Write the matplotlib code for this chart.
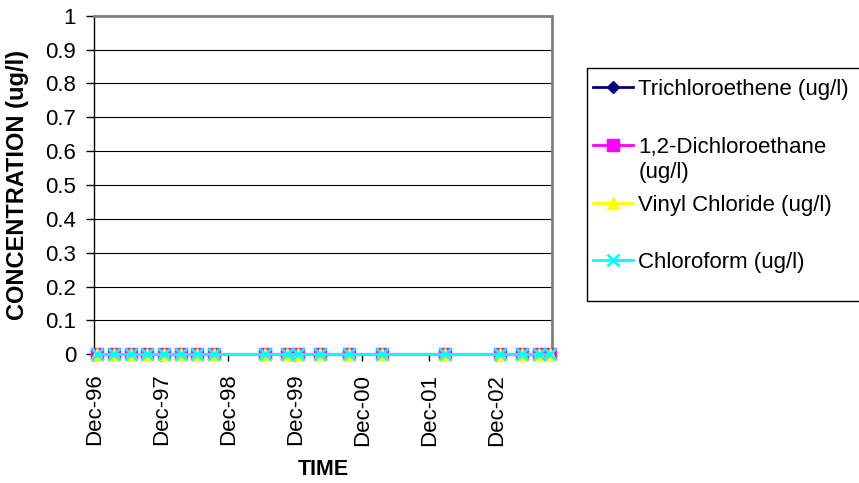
import numpy as np
import pandas as pd
import matplotlib
matplotlib.use('Agg')
import matplotlib.pyplot as plt
import matplotlib.dates as mdates
from matplotlib.lines import Line2D
from matplotlib.patches import Rectangle
from matplotlib.ticker import MultipleLocator, FormatStrFormatter

plt.rcParams['font.family'] = ['Liberation Sans', 'DejaVu Sans']

# sampling dates and measured concentrations (ug/l)
sample_dates = pd.to_datetime([
    '1996-12-17', '1997-03-18', '1997-06-17', '1997-09-15', '1997-12-15',
    '1998-03-17', '1998-06-15', '1998-09-16', '1999-06-18', '1999-10-16',
    '1999-12-15', '2000-04-15', '2000-09-18', '2001-03-18', '2002-02-23',
    '2002-12-18', '2003-04-18', '2003-07-18', '2003-09-16',
])
tce = [0, 0, 0, 0, 0, 0, 0, 0, 0, 0, 0, 0, 0, 0, 0, 0, 0, 0, 0]
dca = [0, 0, 0, 0, 0, 0, 0, 0, 0, 0, 0, 0, 0, 0, 0, 0, 0, 0, 0]
vinyl = [0, 0, 0, 0, 0, 0, 0, 0, 0, 0, 0, 0, 0, 0, 0, 0, 0, 0, 0]
chloroform = [0, 0, 0, 0, 0, 0, 0, 0, 0, 0, 0, 0, 0, 0, 0, 0, 0, 0, 0]

series = [
    ('Trichloroethene (ug/l)', tce, '#000080', 'D', 6),
    ('1,2-Dichloroethane\n(ug/l)', dca, '#ff00ff', 's', 8),
    ('Vinyl Chloride (ug/l)', vinyl, '#ffff00', '^', 8.5),
    ('Chloroform (ug/l)', chloroform, '#00ffff', 'x', 8),
]

W, H = 859, 483
fig = plt.figure(figsize=(W / 100, H / 100), dpi=100)
left, right, top, bottom = 94.3, 552.3, 15.7, 354.3
ax = fig.add_axes([left / W, 1 - bottom / H, (right - left) / W, (bottom - top) / H])

for name, vals, color, marker, ms in series:
    ax.plot(sample_dates, vals, color=color, lw=2.2, marker=marker, ms=ms,
            mec=color, mfc=color, mew=2 if marker == 'x' else 1,
            clip_on=False, zorder=3)

ax.set_ylim(0, 1)
ax.yaxis.set_major_locator(MultipleLocator(0.1))
ax.yaxis.set_major_formatter(FormatStrFormatter('%g'))
ax.grid(axis='y', color='black', lw=0.8)
ax.set_axisbelow(True)

ax.set_xlim(pd.Timestamp('1996-12-01'), pd.Timestamp('2003-10-01'))
ax.xaxis.set_major_locator(mdates.MonthLocator(bymonth=12, bymonthday=1))
ax.xaxis.set_major_formatter(mdates.DateFormatter('%b-%y'))

ax.tick_params(axis='y', labelsize=16, length=6, width=1, pad=7, direction='out')
ax.tick_params(axis='x', labelsize=16, length=5, width=1, pad=9, direction='out',
               labelrotation=90)

for s in ('top', 'right'):
    ax.spines[s].set_color('#808080')
    ax.spines[s].set_linewidth(2)
for s in ('left', 'bottom'):
    ax.spines[s].set_color('black')
    ax.spines[s].set_linewidth(1)

ax.set_xlabel('TIME', fontsize=15.5, fontweight='bold', va='center')
ax.xaxis.set_label_coords(0.5, -0.339)
ax.set_ylabel('CONCENTRATION (ug/l)', fontsize=17, fontweight='bold', va='center')
ax.yaxis.set_label_coords(-0.1666, 0.5)

# legend laid out by hand in pixel space: equal row pitch, wrapped label hangs down
to_fig = lambda x, y: (x / W, 1 - y / H)
box = Rectangle(to_fig(586.7, 300.7), (875 - 586.7) / W, (300.7 - 68.3) / H,
                transform=fig.transFigure, fill=False, ec='black', lw=1, clip_on=False)
fig.add_artist(box)
row_y = [86.7, 145.0, 203.3, 260.0]
line_step = 25
for (name, vals, color, marker, ms), y in zip(series, row_y):
    x0, y0 = to_fig(593, y)
    x1, _ = to_fig(632.7, y)
    fig.add_artist(Line2D([x0, x1], [y0, y0], transform=fig.transFigure,
                          color=color, lw=2))
    fig.add_artist(Line2D([(x0 + x1) / 2], [y0], transform=fig.transFigure,
                          marker=marker, ms=ms, color=color, mec=color, mfc=color,
                          mew=2 if marker == 'x' else 1, ls='none'))
    for k, part in enumerate(name.split('\n')):
        tx, ty = to_fig(638.3, y + 7.9 + k * line_step)
        fig.text(tx, ty, part, fontsize=16, va='baseline', ha='left')

fig.savefig('out.png', dpi=100)
